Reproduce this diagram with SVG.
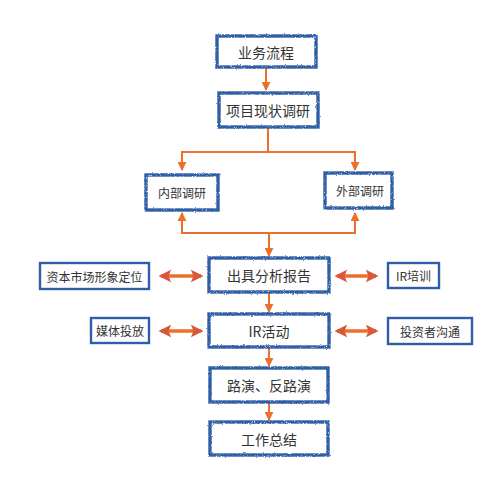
<svg xmlns="http://www.w3.org/2000/svg" width="500" height="499" viewBox="0 0 500 499">
<defs>
<filter id="rough" x="-10%" y="-10%" width="120%" height="120%">
<feTurbulence type="fractalNoise" baseFrequency="0.9" numOctaves="2" seed="3" result="n"/>
<feColorMatrix in="n" type="matrix" values="0 0 0 0 0  0 0 0 0 0  0 0 0 0 0  7 0 0 0 -1.6" result="m"/>
<feComposite in="SourceGraphic" in2="m" operator="in" result="s"/>
<feDisplacementMap in="s" in2="n" scale="2.2" xChannelSelector="R" yChannelSelector="G"/>
</filter>
<marker id="ah" viewBox="0 0 10 10" refX="9" refY="5" markerWidth="4.5" markerHeight="4.5" orient="auto-start-reverse" markerUnits="strokeWidth">
<path d="M0,0 L10,5 L0,10 z" fill="#ec6f2a"/>
</marker>
<marker id="dh" viewBox="0 0 10 10" refX="8" refY="5" markerWidth="3.6" markerHeight="4" orient="auto-start-reverse" markerUnits="strokeWidth">
<path d="M0,0 L10,5 L0,10 L2,5 z" fill="#d9583a"/>
</marker>
</defs>
<style>
.mf{fill:#fff}
.mb{fill:none;stroke:#2f5ea6;stroke-width:3.4;filter:url(#rough)}
.sb{fill:#fff;stroke:#2f5ea6;stroke-width:2.4}
.t1{font-family:"Noto Sans CJK SC","Liberation Sans",sans-serif;font-size:14px;fill:#333;text-anchor:middle;dominant-baseline:central}
.t2{font-family:"Noto Sans CJK SC","Liberation Sans",sans-serif;font-size:12px;fill:#333;text-anchor:middle;dominant-baseline:central}
.c{fill:none;stroke:#ec6f2a;stroke-width:2}
.d{fill:none;stroke:#ec6f2a;stroke-width:3.5}
</style>
<rect width="500" height="499" fill="#fff"/>
<g id="connectors">
<line class="c" x1="266" y1="67" x2="266" y2="90" marker-end="url(#ah)"/>
<line class="c" x1="268" y1="128" x2="268" y2="152"/>
<polyline class="c" points="182,170 182,152 355,152 355,170" marker-start="url(#ah)" marker-end="url(#ah)"/>
<polyline class="c" points="182,213 182,233 355,233 355,213" marker-start="url(#ah)" marker-end="url(#ah)"/>
<line class="c" x1="269" y1="233" x2="269" y2="256" marker-end="url(#ah)"/>
<line class="c" x1="269" y1="292" x2="269" y2="312" marker-end="url(#ah)"/>
<line class="c" x1="269" y1="348" x2="269" y2="366" marker-end="url(#ah)"/>
<line class="c" x1="269" y1="402" x2="269" y2="420" marker-end="url(#ah)"/>
<line class="d" x1="161" y1="276" x2="201" y2="276" marker-start="url(#dh)" marker-end="url(#dh)"/>
<line class="d" x1="161" y1="331" x2="201" y2="331" marker-start="url(#dh)" marker-end="url(#dh)"/>
<line class="d" x1="337" y1="276" x2="376" y2="276" marker-start="url(#dh)" marker-end="url(#dh)"/>
<line class="d" x1="337" y1="331" x2="376" y2="331" marker-start="url(#dh)" marker-end="url(#dh)"/>
</g>
<g id="n1"><rect class="mf" x="217" y="36" width="99" height="31"/><rect class="mb" x="217" y="36" width="99" height="31"/><text class="t1" x="266" y="51.5">业务流程</text></g>
<g id="n2"><rect class="mf" x="219" y="93" width="99" height="34"/><rect class="mb" x="219" y="93" width="99" height="34"/><text class="t1" x="268" y="110">项目现状调研</text></g>
<g id="n3"><rect class="mf" x="146" y="175" width="72" height="35"/><rect class="mb" x="146" y="175" width="72" height="35"/><text class="t2" x="182" y="192.5">内部调研</text></g>
<g id="n4"><rect class="mf" x="325" y="173" width="67" height="35"/><rect class="mb" x="325" y="173" width="67" height="35"/><text class="t2" x="360" y="190.5">外部调研</text></g>
<g id="n5"><rect class="mf" x="209" y="258" width="120" height="34"/><rect class="mb" x="209" y="258" width="120" height="34"/><text class="t1" x="269" y="275">出具分析报告</text></g>
<g id="n6"><rect class="sb" x="40" y="263" width="109" height="26"/><text class="t2" x="94.5" y="276">资本市场形象定位</text></g>
<g id="n7"><rect class="sb" x="388" y="263" width="51" height="25"/><text class="t2" x="413.5" y="275.5">IR培训</text></g>
<g id="n8"><rect class="mf" x="209" y="314" width="120" height="33"/><rect class="mb" x="209" y="314" width="120" height="33"/><text class="t1" x="269" y="330.5">IR活动</text></g>
<g id="n9"><rect class="sb" x="91" y="318" width="58" height="25"/><text class="t2" x="120" y="330.5">媒体投放</text></g>
<g id="n10"><rect class="sb" x="388" y="318" width="84" height="26"/><text class="t2" x="430" y="331">投资者沟通</text></g>
<g id="n11"><rect class="mf" x="210" y="368" width="118" height="34"/><rect class="mb" x="210" y="368" width="118" height="34"/><text class="t1" x="269" y="385">路演、反路演</text></g>
<g id="n12"><rect class="mf" x="210" y="422" width="118" height="33"/><rect class="mb" x="210" y="422" width="118" height="33"/><text class="t1" x="269" y="438.5">工作总结</text></g>
</svg>
